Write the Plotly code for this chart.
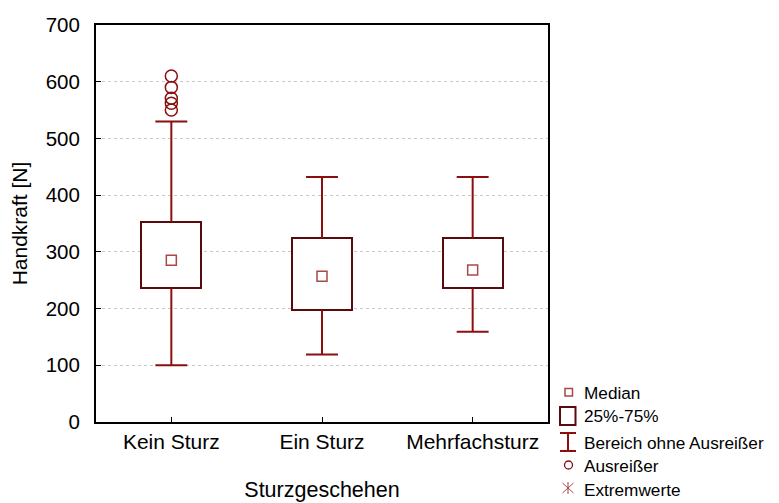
import plotly.graph_objects as go

categories = ["Kein Sturz", "Ein Sturz", "Mehrfachsturz"]
q1 = [236, 197, 236]
median = [285, 257, 268]
q3 = [353, 324, 324]
lower = [100, 119, 159]
upper = [530, 432, 432]
outliers_kein = [610, 590, 571, 562, 550]

y_ticks = [0, 100, 200, 300, 400, 500, 600, 700]
legend_labels = ["Median", "25%-75%", "Bereich ohne Ausreißer", "Ausreißer", "Extremwerte"]

BOX_LINE = "#5a0a0a"
WHISK = "#8b0f0f"
MED = "#a84848"
FONT = "Liberation Sans, Arial, sans-serif"

xpos = list(range(len(categories)))
box_half = 0.2
cap_half = 0.106

fig = go.Figure()

# boxes
fig.add_trace(go.Bar(
    x=xpos, y=[b - a for a, b in zip(q1, q3)], base=q1, width=2 * box_half,
    marker=dict(color="white", line=dict(color=BOX_LINE, width=2)),
    hoverinfo="skip", showlegend=False))

# whiskers
wx, wy, cx, cy = [], [], [], []
for i in xpos:
    wx += [i, i, None, i, i, None]
    wy += [q3[i], upper[i], None, lower[i], q1[i], None]
    cx += [i - cap_half, i + cap_half, None, i - cap_half, i + cap_half, None]
    cy += [upper[i], upper[i], None, lower[i], lower[i], None]
fig.add_trace(go.Scatter(x=wx, y=wy, mode="lines", line=dict(color=WHISK, width=2),
                         showlegend=False, hoverinfo="skip"))
fig.add_trace(go.Scatter(x=cx, y=cy, mode="lines", line=dict(color=WHISK, width=2),
                         showlegend=False, hoverinfo="skip"))

# medians
fig.add_trace(go.Scatter(x=xpos, y=median, mode="markers",
                         marker=dict(symbol="square-open", size=10, color=MED, line=dict(width=1.5)),
                         showlegend=False))

# outliers
fig.add_trace(go.Scatter(x=[0] * len(outliers_kein), y=outliers_kein, mode="markers",
                         marker=dict(symbol="circle-open", size=12, color=WHISK, line=dict(width=1.5)),
                         showlegend=False))

# page offset of the html body (8px margin)
OFF = 8
L, R, T, B = 96 - OFF, 548 - OFF, 25 - OFF, 422 - OFF
W, H = 779 - OFF, 503 - OFF


def px(p):
    return (p - OFF - L) / (R - L)


def py(p):
    return (B - (p - OFF)) / (B - T)


shapes = []
# median symbol
shapes.append(dict(type="rect", xref="paper", yref="paper", x0=px(565), x1=px(572.5),
                   y0=py(388.5), y1=py(396), line=dict(color=MED, width=1.5)))
# box symbol
shapes.append(dict(type="rect", xref="paper", yref="paper", x0=px(560), x1=px(575.5),
                   y0=py(407), y1=py(425), line=dict(color=BOX_LINE, width=2)))
# whisker symbol
for (a, b, c, d) in [(560, 433, 576, 433), (560, 451, 576, 451), (568, 433, 568, 451)]:
    shapes.append(dict(type="line", xref="paper", yref="paper", x0=px(a), y0=py(b),
                       x1=px(c), y1=py(d), line=dict(color=WHISK, width=2)))
# outlier symbol
shapes.append(dict(type="circle", xref="paper", yref="paper", x0=px(564.5), x1=px(572.5),
                   y0=py(461), y1=py(469), line=dict(color=WHISK, width=1.3)))
# extreme symbol (asterisk)
for (a, b, c, d) in [(568, 482, 568, 494), (562.5, 483, 573.5, 493), (562.5, 493, 573.5, 483)]:
    shapes.append(dict(type="line", xref="paper", yref="paper", x0=px(a), y0=py(b),
                       x1=px(c), y1=py(d), line=dict(color=MED, width=1)))

annotations = []
for lab, yy in zip(legend_labels, [393, 416, 443, 466, 490]):
    annotations.append(dict(text=lab, xref="paper", yref="paper", x=px(582), y=py(yy),
                            xanchor="left", yanchor="middle", showarrow=False,
                            font=dict(size=17.2, color="black", family=FONT)))

fig.update_layout(
    width=W, height=H,
    margin=dict(l=L, r=W - R, t=T, b=H - B, pad=0),
    paper_bgcolor="white", plot_bgcolor="white",
    font=dict(family=FONT, size=21, color="black"),
    shapes=shapes, annotations=annotations,
    bargap=0,
    xaxis=dict(range=[-0.5, 2.5], tickvals=xpos, ticktext=categories,
               ticks="inside", ticklen=5, tickcolor="black", tickwidth=1,
               showline=True, linecolor="black", linewidth=2, mirror=True,
               showgrid=False, zeroline=False, automargin=False,
               title=dict(text="Sturzgeschehen", font=dict(size=21.5), standoff=30),
               tickfont=dict(size=21), fixedrange=True),
    yaxis=dict(range=[0, 700], tickvals=y_ticks,
               ticks="inside", ticklen=5, tickcolor="black", tickwidth=1,
               showline=True, linecolor="black", linewidth=2, mirror=True,
               showgrid=True, gridcolor="#c8c8c8", griddash="3px,3px", gridwidth=1,
               zeroline=False, ticklabelstandoff=10, automargin=False,
               title=dict(text="Handkraft [N]", font=dict(size=21), standoff=14),
               tickfont=dict(size=20.5), fixedrange=True),
)

fig.write_html("out.html")
